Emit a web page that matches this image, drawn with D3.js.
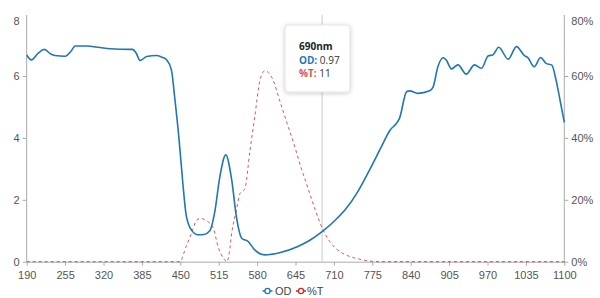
<!DOCTYPE html>
<html><head><meta charset="utf-8">
<script src="https://cdn.jsdelivr.net/npm/d3@7"></script>
<style>
body{margin:0;background:#fff;}
svg{display:block;font-family:"Liberation Sans",Arial,sans-serif;}
.axis text{fill:#555;font-size:11px;}
.axis path,.axis line{stroke:#aaa;}
</style></head><body>
<svg id="c" width="600" height="298"></svg>
<script>
const odNm  = [190,198,210,220,230,238,255,265,272,291,314,331,365,369,375,382,393,410,420,427,435,441,448,454,460,469,480,490,500,508,517,527,537,545,554,565,576,593,618,650,670,690,710,730,750,770,790,805,815,821,833,838,852,872,878,886,895,900,909,920,934,948,960,971,979,989,1005,1019,1033,1038,1049,1060,1069,1079,1086,1093,1100];
const odVal = [6.68,6.52,6.75,6.86,6.72,6.66,6.64,6.8,6.97,6.97,6.92,6.88,6.86,6.86,6.75,6.5,6.63,6.66,6.6,6.52,6.19,5.22,3.93,2.6,1.5,1.02,0.87,0.88,1.0,1.57,2.75,3.45,2.64,1.45,0.76,0.65,0.38,0.22,0.29,0.5,0.7,0.97,1.3,1.7,2.25,2.95,3.7,4.25,4.45,4.63,5.49,5.52,5.44,5.52,5.65,6.3,6.59,6.52,6.23,6.36,6.06,6.36,6.25,6.65,6.68,6.93,6.54,6.95,6.65,6.6,6.3,6.6,6.41,6.35,5.87,5.2,4.5];
const tNm  = [190,449,460,469,478,485,490,497,506,514,523,529,533,537,545,551,559,568,576,585,593,605,620,632,644,655,664,677,690,703,715,725,754,776,790,1100];
const tVal = [0,0,5,9.2,13.5,14,13.7,12.9,10.8,4.8,1.1,0,3,9.2,16.7,22,23.4,36,46.8,58.7,61.7,59.5,51,44,37,30,25,17.5,11,6.5,4,2.7,0.8,0.1,0,0];
const xTicks = [190,255,320,385,450,515,580,645,710,775,840,905,970,1035,1100];
const yLeftTicks = [0,2,4,6,8];
const yRightTicks = [0,20,40,60,80];
const seriesNames = ["OD","%T"];
const hoverNm = 690, hoverOD = 0.97, hoverT = 11;

const colOD = "#1f77b4", colT = "#d62728";
const L = 26.7, R = 564.3, T = 14.1, B = 261.7;
const svg = d3.select("#c");
const x = d3.scaleLinear().domain([190,1100]).range([L,R]);
const yL = d3.scaleLinear().domain([0,8]).range([B,T]);
const yR = d3.scaleLinear().domain([0,80]).range([B,T]);

// hover line
svg.append("line").attr("x1",x(hoverNm)).attr("x2",x(hoverNm)).attr("y1",15).attr("y2",B)
  .attr("stroke","#ccc").attr("stroke-width",1);

const gx = svg.append("g").attr("class","axis").attr("transform",`translate(0,${B})`)
  .call(d3.axisBottom(x).tickValues(xTicks).tickFormat(d3.format("d")).tickSize(4).tickSizeOuter(0));
gx.selectAll("text").attr("dy","0.9em");
const gl = svg.append("g").attr("class","axis").attr("transform",`translate(${L},0)`)
  .call(d3.axisLeft(yL).tickValues(yLeftTicks).tickSize(4).tickSizeOuter(0));
const gr = svg.append("g").attr("class","axis").attr("transform",`translate(${R},0)`)
  .call(d3.axisRight(yR).tickValues(yRightTicks).tickFormat(d=>d+"%").tickSize(4).tickSizeOuter(0));
[gl,gr].forEach(g=>{
  g.select(".domain").attr("d", `M0,15V${B}`);
  g.selectAll(".tick").filter(d=>d===8||d===80).each(function(){
    d3.select(this).select("line").remove();
    d3.select(this).select("text").attr("y",7);
  });
});

const lineOD = d3.line().x((d,i)=>x(odNm[i])).y(d=>yL(d)).curve(d3.curveMonotoneX);
const lineT = d3.line().x((d,i)=>x(tNm[i])).y(d=>yR(d)).curve(d3.curveMonotoneX);
svg.append("path").attr("d",lineT(tVal)).attr("fill","none").attr("stroke",colT)
  .attr("stroke-opacity",0.8).attr("stroke-width",1).attr("stroke-dasharray","3,3");
svg.append("path").attr("d",lineOD(odVal)).attr("fill","none").attr("stroke",colOD)
  .attr("stroke-width",1.6);

// legend
const leg = svg.append("g");
[[267.5,colOD,275],[301,colT,307]].forEach((p,i)=>{
  const g = leg.append("g");
  g.append("line").attr("x1",p[0]-5).attr("x2",p[0]+5).attr("y1",291).attr("y2",291).attr("stroke",p[1]).attr("stroke-width",1.5);
  g.append("circle").attr("cx",p[0]).attr("cy",291).attr("r",2.6).attr("fill","#fff").attr("stroke",p[1]).attr("stroke-width",1.3);
  g.append("text").attr("x",p[2]).attr("y",295).attr("font-size",11).attr("fill","#444").text(seriesNames[i]);
});

// tooltip
const defs = svg.append("defs");
const f = defs.append("filter").attr("id","sh").attr("x","-20%").attr("y","-20%").attr("width","140%").attr("height","140%");
f.append("feDropShadow").attr("dx",0).attr("dy",1).attr("stdDeviation",2).attr("flood-color","#000").attr("flood-opacity",0.2);
const tt = svg.append("g").attr("font-family","'Open Sans','Liberation Sans',Arial,sans-serif").attr("font-size",10);
tt.append("rect").attr("x",285).attr("y",25).attr("width",65).attr("height",67).attr("rx",3)
  .attr("fill","#fff").attr("stroke","#e2e2e2").attr("filter","url(#sh)");
tt.append("text").attr("x",299).attr("y",50).attr("font-weight","bold").attr("fill","#222").text(hoverNm+"nm");
const t1 = tt.append("text").attr("x",299).attr("y",64);
t1.append("tspan").attr("font-weight","bold").attr("fill",colOD).text("OD:");
t1.append("tspan").attr("fill","#333").text(" "+hoverOD.toFixed(2));
const t2 = tt.append("text").attr("x",299).attr("y",77);
t2.append("tspan").attr("font-weight","bold").attr("fill","#d9534f").text("%T:");
t2.append("tspan").attr("fill","#333").text(" "+hoverT);
</script></body></html>
